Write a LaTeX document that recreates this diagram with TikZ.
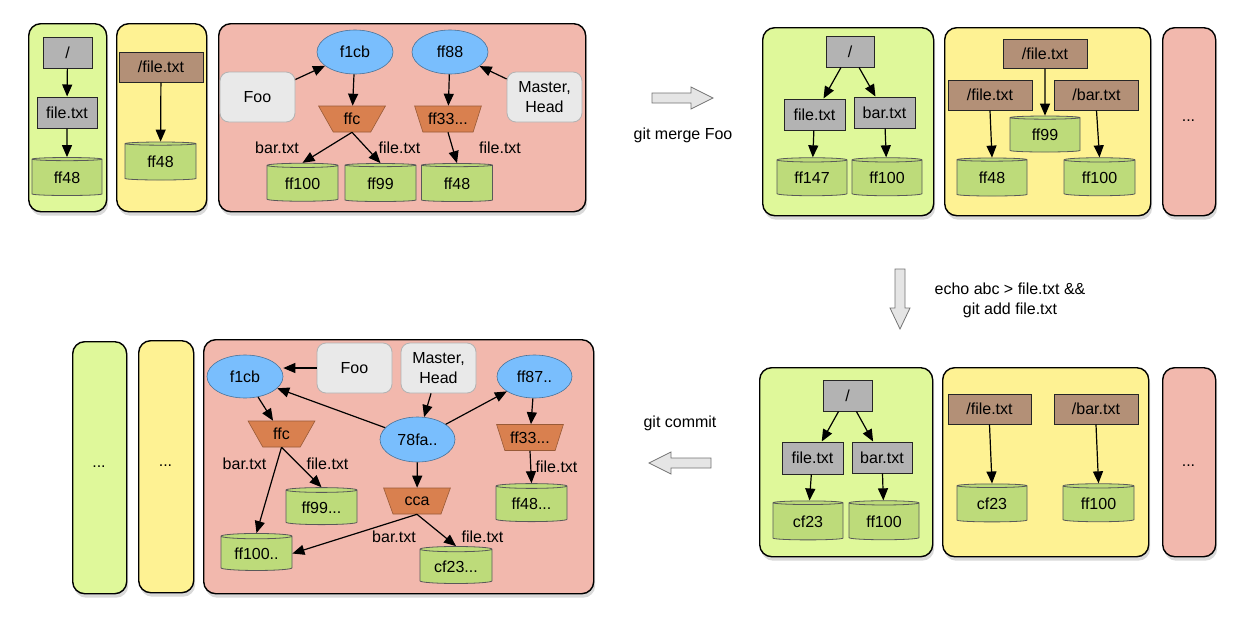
\documentclass[tikz,border=0pt]{standalone}
\usepackage{fontspec}
\setmainfont{Liberation Sans}
\usetikzlibrary{shapes.geometric,arrows.meta,shadows}
\definecolor{pgreen}{HTML}{DFF89A}
\definecolor{pyellow}{HTML}{FEF293}
\definecolor{ppink}{HTML}{F2B8AD}
\definecolor{cgreen}{HTML}{BDDB7A}
\definecolor{cblue}{HTML}{79BEFD}
\definecolor{corange}{HTML}{D9804F}
\definecolor{cbrown}{HTML}{B39077}
\definecolor{cgray}{HTML}{B3B3B3}
\definecolor{clabel}{HTML}{E9E9E9}
\begin{document}
\begin{tikzpicture}[x=1pt,y=-1pt,font=\fontsize{16}{20}\selectfont,
  panel/.style={draw=black,line width=1.4pt,rounded corners=12pt,anchor=north west,inner sep=0pt,
    drop shadow={shadow xshift=1.5pt,shadow yshift=-4pt,opacity=0.3}},
  gbox/.style={draw=black!85,fill=cgray,line width=1pt,inner sep=0pt,minimum height=31pt},
  bbox/.style={draw=black!85,fill=cbrown,line width=1pt,inner sep=0pt,minimum width=84pt,minimum height=30pt},
  cyl/.style={cylinder,shape border rotate=90,aspect=0.12,draw=black!65,fill=cgreen,line width=0.8pt,
    inner sep=0pt,minimum width=71pt,minimum height=38pt},
  trap/.style={trapezium,shape border rotate=180,trapezium angle=61,trapezium stretches=true,
    minimum width=67pt,minimum height=26pt,fill=corange,draw=corange!70!black,line width=0.6pt,inner sep=0pt},
  ell/.style={ellipse,fill=cblue,draw=cblue!60!black,line width=0.6pt,minimum width=76pt,minimum height=44pt,inner sep=0pt},
  lab/.style={rounded corners=9pt,fill=clabel,draw=black!30,line width=0.8pt,minimum width=75pt,minimum height=50pt,
    align=center,inner sep=0pt},
  txt/.style={inner sep=0pt},
  arr/.style={-{Triangle[length=12pt,width=10pt]},line width=1.2pt},
  hollow/.style={fill=black!10,draw=black!55,line width=0.8pt}]
\useasboundingbox (0,0) rectangle (1243,627);

% ---------- top-left state ----------
\node[panel,fill=pgreen,minimum width=78pt,minimum height=188pt] (pA) at (28,23) {};
\node[panel,fill=pyellow,minimum width=90pt,minimum height=188pt] (pB) at (116,23) {};
\node[panel,fill=ppink,minimum width=367pt,minimum height=188pt] (pC) at (218,23) {};

\node[gbox,minimum width=49pt] (aroot) at (67.5,52.5) {/};
\node[gbox,minimum width=60pt] (afile) at (67,112.5) {file.txt};
\node[cyl,minimum width=70pt] (aff) at (67,177.5) {ff48};
\draw[arr] (aroot) -- (afile);
\draw[arr] (afile) -- (aff);

\node[bbox] (bfile) at (161,67) {/file.txt};
\node[cyl] (bff) at (160.5,162) {ff48};
\draw[arr] (bfile) -- (bff);

\node[ell] (cf1cb) at (355,52) {f1cb};
\node[ell] (cff88) at (450,52) {ff88};
\node[lab] (cfoo) at (257.5,97) {Foo};
\node[lab] (cmaster) at (544.5,97) {Master,\\Head};
\node[trap] (cffc) at (352,119) {ffc};
\node[trap] (cff33) at (448,119) {ff33...};
\node[cyl] (cff100) at (302.5,183.5) {ff100};
\node[cyl] (cff99) at (380.5,183.5) {ff99};
\node[cyl] (cff48) at (457,183.5) {ff48};
\node[txt] (cl1) at (277,148) {bar.txt};
\node[txt] (cl2) at (399.5,148) {file.txt};
\node[txt] (cl3) at (500,148) {file.txt};
\draw[arr] (cfoo) -- (cf1cb);
\draw[arr] (cmaster) -- (cff88);
\draw[arr] (cf1cb) -- (cffc);
\draw[arr] (cff88) -- (cff33);
\draw[arr] (cffc.south) -- (cff100.north);
\draw[arr] (cffc.south) -- (cff99.north);
\draw[arr] (cff33.south) -- (cff48.north);

% ---------- arrow: git merge Foo ----------
\draw[hollow] (652,93) -- (691,93) -- (691,87) -- (713,98) -- (691,109) -- (691,103) -- (652,103) -- cycle;
\node[txt] (tmerge) at (683,135) {git merge Foo};

% ---------- top-right state ----------
\node[panel,fill=pgreen,minimum width=171pt,minimum height=188pt] (pD) at (762,27) {};
\node[panel,fill=pyellow,minimum width=206pt,minimum height=188pt] (pE) at (944,27) {};
\node[panel,fill=ppink,minimum width=53pt,minimum height=188pt] (pF) at (1162,27) {};

\node[gbox,minimum width=48pt] (droot) at (850,51.5) {/};
\node[gbox,minimum width=61pt] (dfile) at (814.5,114.5) {file.txt};
\node[gbox,minimum width=61pt] (dbar) at (884.5,112.5) {bar.txt};
\node[cyl,minimum width=70pt] (dff147) at (812,178) {ff147};
\node[cyl,minimum width=70pt] (dff100) at (887,178) {ff100};
\draw[arr] (droot) -- (dfile);
\draw[arr] (droot) -- (dbar);
\draw[arr] (dfile) -- (dff147);
\draw[arr] (dbar) -- (dff100);

\node[bbox,minimum height=29pt] (efile1) at (1045,53.5) {/file.txt};
\node[bbox] (efile2) at (990,95) {/file.txt};
\node[bbox] (ebar) at (1096.5,95) {/bar.txt};
\node[cyl,minimum width=70pt,minimum height=36pt] (eff99) at (1045,135) {ff99};
\node[cyl,minimum width=70pt] (eff48) at (992,178) {ff48};
\node[cyl] (eff100) at (1099.5,178) {ff100};
\draw[arr] (efile1) -- (eff99);
\draw[arr] (efile2.south) -- (eff48.north);
\draw[arr] (ebar.south) -- (eff100.north);

\node[txt] (fdots) at (1188.5,121) {...};

% ---------- arrow: echo ----------
\draw[hollow] (895,269) -- (905,269) -- (905,308) -- (910,308) -- (900,329) -- (890,308) -- (895,308) -- cycle;
\node[txt,align=center] (techo) at (1010,300) {echo abc > file.txt \&\&\\git add file.txt};

% ---------- bottom-right state ----------
\node[panel,fill=pgreen,minimum width=173pt,minimum height=189pt] (pG) at (759,367) {};
\node[panel,fill=pyellow,minimum width=206pt,minimum height=189pt] (pH) at (942,367) {};
\node[panel,fill=ppink,minimum width=53pt,minimum height=189pt] (pI) at (1162,367) {};

\node[gbox,minimum width=49pt] (groot) at (847.5,395.5) {/};
\node[gbox,minimum width=61pt,minimum height=32pt] (gfile) at (812.5,458) {file.txt};
\node[gbox,minimum width=60pt] (gbar) at (882,457.5) {bar.txt};
\node[cyl,minimum width=70pt,minimum height=39pt] (gcf23) at (808,521.5) {cf23};
\node[cyl,minimum width=70pt,minimum height=39pt] (gff100) at (884,521.5) {ff100};
\draw[arr] (groot) -- (gfile);
\draw[arr] (groot) -- (gbar);
\draw[arr] (gfile) -- (gcf23);
\draw[arr] (gbar) -- (gff100);

\node[bbox,minimum width=83pt] (hfile) at (989.5,409) {/file.txt};
\node[bbox] (hbar) at (1096,409) {/bar.txt};
\node[cyl,minimum width=70pt] (hcf23) at (992,504) {cf23};
\node[cyl] (hff100) at (1098.5,504) {ff100};
\draw[arr] (hfile.south) -- (hcf23.north);
\draw[arr] (hbar.south) -- (hff100.north);

\node[txt] (idots) at (1188.5,466) {...};

% ---------- arrow: git commit ----------
\node[txt] (tcommit) at (680,423) {git commit};
\draw[hollow] (711,458) -- (671,458) -- (671,452) -- (649,463) -- (671,474) -- (671,468) -- (711,468) -- cycle;

% ---------- bottom-left state ----------
\node[panel,fill=pgreen,minimum width=54pt,minimum height=252pt] (pJ) at (72,341) {};
\node[panel,fill=pyellow,minimum width=55pt,minimum height=252pt] (pK) at (138,340) {};
\node[panel,fill=ppink,minimum width=390pt,minimum height=254pt] (pL) at (203,339) {};
\node[txt] (jdots) at (99,467) {...};
\node[txt] (kdots) at (165.5,466) {...};

\node[ell,minimum height=43pt] (lf1cb) at (245,376.5) {f1cb};
\node[lab] (lfoo) at (354.5,368) {Foo};
\node[lab] (lmaster) at (438.5,368) {Master,\\Head};
\node[ell,minimum width=75pt,minimum height=43pt] (lff87) at (534.5,376.5) {ff87..};
\node[ell,minimum width=75pt,minimum height=45pt] (l78fa) at (417.5,439.5) {78fa..};
\node[trap] (lffc) at (281.5,434) {ffc};
\node[trap] (lff33) at (530,437.5) {ff33...};
\node[trap] (lcca) at (417,501) {cca};
\node[cyl,minimum height=37pt] (lff99) at (321.5,507.5) {ff99...};
\node[cyl] (lff48) at (531.5,504) {ff48...};
\node[cyl,minimum height=37pt] (lff100) at (256.5,553.5) {ff100..};
\node[cyl,minimum width=72pt,minimum height=37pt] (lcf23) at (456,566.5) {cf23...};
\node[txt] (ll1) at (244.5,464) {bar.txt};
\node[txt] (ll2) at (327.5,464) {file.txt};
\node[txt] (ll3) at (556.5,467) {file.txt};
\node[txt] (ll4) at (394,537) {bar.txt};
\node[txt] (ll5) at (482.5,537) {file.txt};

\draw[arr] (lfoo.west) -- (lf1cb.east |- lfoo.west);
\draw[arr] (l78fa) -- (lf1cb);
\draw[arr] (l78fa) -- (lff87);
\draw[arr] (lmaster) -- (l78fa);
\draw[arr] (lf1cb) -- (lffc);
\draw[arr] (lff87) -- (lff33);
\draw[arr] (l78fa) -- (lcca);
\draw[arr] (lffc.south) -- (lff100.north);
\draw[arr] (lffc.south) -- (lff99.north);
\draw[arr] (lcca.south) -- (lff100.east);
\draw[arr] (lcca.south) -- (lcf23.north);
\draw[arr] (lff33.south) -- (lff48.north);
\end{tikzpicture}
\end{document}
